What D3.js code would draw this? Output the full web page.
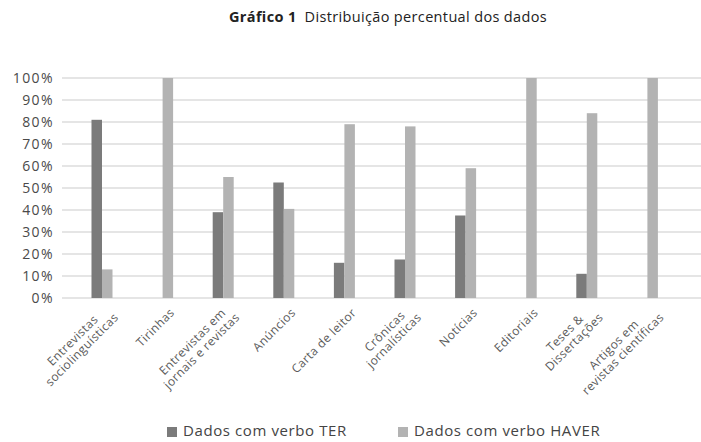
<!DOCTYPE html>
<html>
<head>
<meta charset="utf-8">
<script src="https://cdn.jsdelivr.net/npm/d3@7"></script>
<style>
  html, body { margin: 0; padding: 0; background: #fff; }
  svg { display: block; font-family: "Open Sans", "Noto Sans", sans-serif; }
</style>
</head>
<body>
<svg id="chart" width="701" height="442"></svg>
<script>
// ---- data ----
const categories = [
  "Entrevistas\nsociolinguísticas",
  "Tirinhas",
  "Entrevistas em\njornais e revistas",
  "Anúncios",
  "Carta de leitor",
  "Crônicas\njornalísticas",
  "Notícias",
  "Editoriais",
  "Teses &\nDissertações",
  "Artigos em\nrevistas científicas"
];
const seriesNames = ["Dados com verbo TER", "Dados com verbo HAVER"];
const terValues   = [81, 0, 39, 52.5, 16, 17.5, 37.5, 0, 11, 0];
const haverValues = [13, 100, 55, 40.5, 79, 78, 59, 100, 84, 100];
const yTicks = [0, 10, 20, 30, 40, 50, 60, 70, 80, 90, 100];
const titleBold = "Gráfico 1";
const titleText = "Distribuição percentual dos dados";

// ---- layout ----
const svg = d3.select("#chart");
const colors = ["#7b7b7b", "#b3b3b3"];
const y = d3.scaleLinear().domain([0, 100]).range([298, 78]);
const x = d3.scaleBand().domain(categories).range([71.7, 677.7]).padding(0);
const barW = 10.5;
const xs = d3.scaleBand().domain(seriesNames).range([-barW, barW]).padding(0);

// title
const title = svg.append("text").attr("x", 229).attr("y", 22)
  .attr("font-size", 14.5).attr("fill", "#222").attr("letter-spacing", 0.35);
title.append("tspan").attr("font-weight", "bold").text(titleBold);
title.append("tspan").attr("dx", 8).text(titleText);

// gridlines + y labels
const yAxis = d3.axisLeft(y).tickValues(yTicks).tickFormat(d => d + "%").tickSize(0).tickPadding(0);
const gy = svg.append("g").attr("transform", "translate(54,0)").call(yAxis);
gy.select(".domain").remove();
gy.selectAll("text").attr("font-size", 14).attr("fill", "#4a4a4a")
  .attr("letter-spacing", 1.4)
  .attr("font-family", "'Open Sans', 'Noto Sans', sans-serif");

svg.append("g").selectAll("line").data(yTicks).join("line")
  .attr("x1", 62).attr("x2", 701)
  .attr("y1", d => y(d)).attr("y2", d => y(d))
  .attr("stroke", "#dcdcdc").attr("stroke-width", 1.5);

// bars
const rows = categories.map((c, i) => ({ c, vals: [terValues[i], haverValues[i]] }));
const groups = svg.append("g").selectAll("g").data(rows).join("g")
  .attr("transform", d => `translate(${x(d.c) + x.bandwidth() / 2},0)`);
groups.selectAll("rect")
  .data(d => d.vals.map((v, k) => ({ v, k })).filter(e => e.v > 0))
  .join("rect")
  .attr("x", e => xs(seriesNames[e.k]))
  .attr("width", xs.bandwidth())
  .attr("y", e => y(e.v))
  .attr("height", e => y(0) - y(e.v))
  .attr("fill", e => colors[e.k]);

// x labels (rotated)
const lineH = 13;
const lab = svg.append("g").selectAll("g").data(categories).join("g")
  .attr("transform", c => `translate(${x(c) + x.bandwidth() / 2 + 9},310) rotate(-45)`);
lab.each(function (c) {
  const g = d3.select(this);
  const lines = c.split("\n");
  const t = g.append("text").attr("font-size", 12).attr("fill", "#5a5a5a")
    .attr("letter-spacing", 0.4)
    .attr("text-anchor", "middle").attr("dominant-baseline", "central");
  const spans = lines.map((l, i) => t.append("tspan").text(l)
    .attr("y", (i - (lines.length - 1) / 2) * lineH));
  const widths = spans.map(s => s.node().getComputedTextLength());
  const maxW = d3.max(widths);
  spans.forEach(s => s.attr("x", -maxW / 2));
});

// legend
const legendX = [167, 398];
const leg = svg.append("g").selectAll("g").data(seriesNames).join("g")
  .attr("transform", (d, i) => `translate(${legendX[i]},0)`);
leg.append("rect").attr("x", 0).attr("y", 427).attr("width", 10).attr("height", 10)
  .attr("fill", (d, i) => colors[i]);
leg.append("text").attr("x", 16).attr("y", 436)
  .attr("font-size", 15).attr("letter-spacing", 0.6).attr("fill", "#444").text(d => d);
</script>
</body>
</html>
